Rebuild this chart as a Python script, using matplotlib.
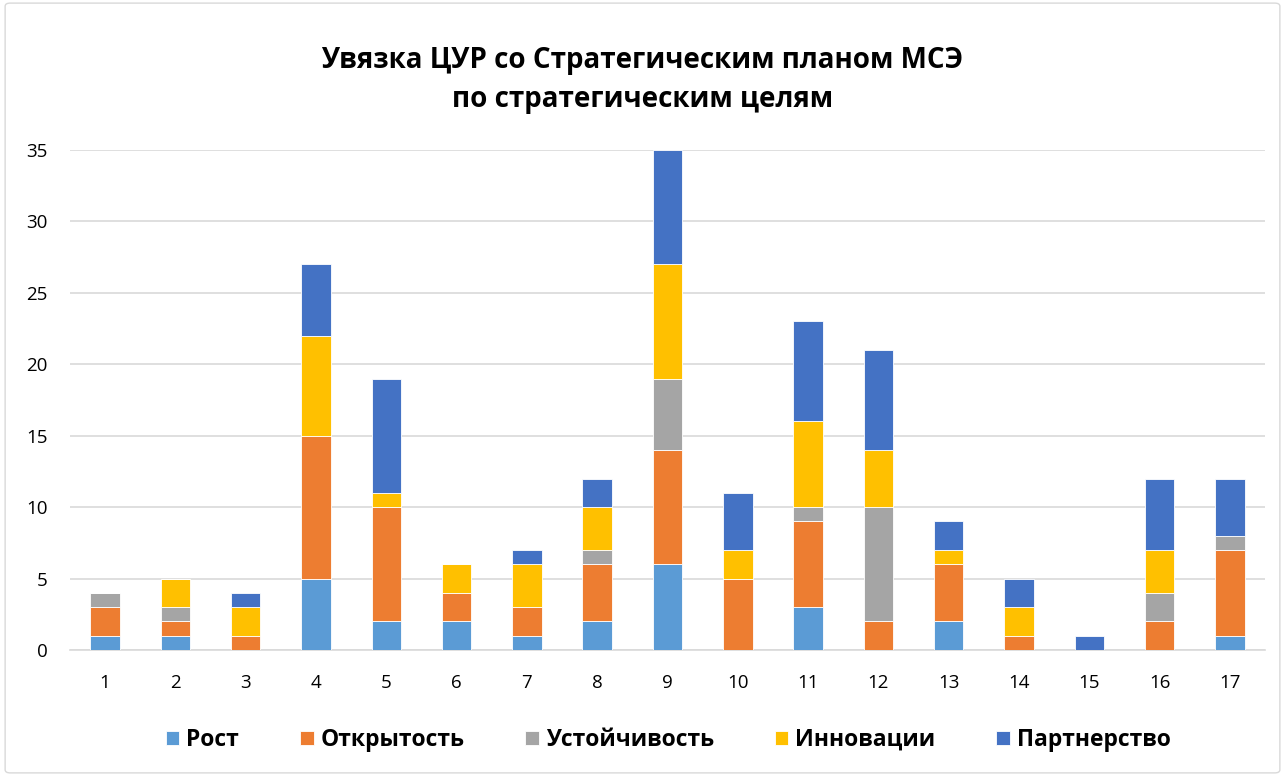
import numpy as np
import matplotlib.pyplot as plt
from matplotlib.patches import FancyBboxPatch

plt.rcParams['font.family'] = ['Open Sans', 'DejaVu Sans']

# Data
goals = [str(i) for i in range(1, 18)]
series = ['Рост', 'Открытость', 'Устойчивость', 'Инновации', 'Партнерство']
rost         = [1, 1, 0, 5, 2, 2, 1, 2, 6, 0, 3, 0, 2, 0, 0, 0, 1]
otkrytost    = [2, 1, 1, 10, 8, 2, 2, 4, 8, 5, 6, 2, 4, 1, 0, 2, 6]
ustoichivost = [1, 1, 0, 0, 0, 0, 0, 1, 5, 0, 1, 8, 0, 0, 0, 2, 1]
innovatsii   = [0, 2, 2, 7, 1, 2, 3, 3, 8, 2, 6, 4, 1, 2, 0, 3, 0]
partnerstvo  = [0, 0, 1, 5, 8, 0, 1, 2, 8, 4, 7, 7, 2, 2, 1, 5, 4]
colors = ['#5B9BD5', '#ED7D31', '#A5A5A5', '#FFC000', '#4472C4']

fig = plt.figure(figsize=(12.85, 7.76), dpi=100)
ax = fig.add_axes([70 / 1285, 1 - 650 / 776, 1195 / 1285, 500 / 776])

# chart border
fig.patches.append(FancyBboxPatch((0.004, 0.004), 0.992, 0.992, boxstyle='round,pad=0,rounding_size=0.004',
                                  transform=fig.transFigure, fill=False, edgecolor='#D9D9D9', linewidth=1))

x = np.arange(1, 18)
bottom = np.zeros(17)
for name, vals, c in zip(series, [rost, otkrytost, ustoichivost, innovatsii, partnerstvo], colors):
    vals = np.array(vals)
    ax.bar(x, vals, width=0.42, bottom=bottom, color=c, edgecolor='white', linewidth=0.6, label=name, zorder=3)
    bottom += vals

ax.set_xlim(0.5, 17.5)
ax.set_ylim(0, 35)
ax.set_yticks(range(0, 36, 5))
ax.set_xticks(x)
ax.set_xticklabels(goals)
ax.grid(axis='y', color='#D9D9D9', linewidth=1.2, zorder=0)
for s in ['top', 'right', 'left']:
    ax.spines[s].set_visible(False)
ax.spines['bottom'].set_color('#D9D9D9')
ax.spines['bottom'].set_linewidth(1.2)
ax.tick_params(axis='both', length=0, labelsize=13.5, colors='#000000')
ax.tick_params(axis='x', pad=17)
ax.tick_params(axis='y', pad=16)

fig.text(0.5, 1 - 80 / 776, 'Увязка ЦУР со Стратегическим планом МСЭ\nпо стратегическим целям',
         ha='center', va='center', fontsize=20, fontweight='bold', linespacing=1.45)

leg = fig.legend(loc='center', bbox_to_anchor=(0.52, 1 - 740 / 776), ncol=5, frameon=False,
                 handlelength=0.6, handleheight=0.6, handletextpad=0.3, columnspacing=2.65,
                 prop={'size': 16.5, 'weight': 'bold'})

fig.savefig('out.png', dpi=100)
